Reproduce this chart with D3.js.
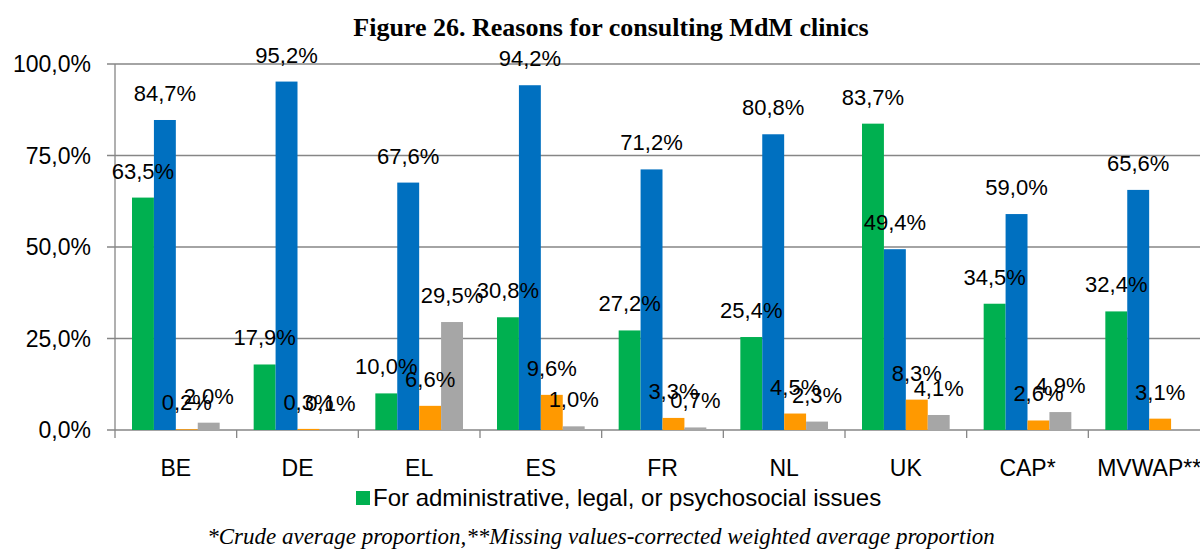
<!DOCTYPE html>
<html>
<head>
<meta charset="utf-8">
<script src="https://cdn.jsdelivr.net/npm/d3@7"></script>
<style>
  body { margin: 0; background: #fff; }
  svg { display: block; }
</style>
</head>
<body>
<script>
var countries = ["BE", "DE", "EL", "ES", "FR", "NL", "UK", "CAP*", "MVWAP**"];
var adminLegalPsycho = [63.5, 17.9, 10.0, 30.8, 27.2, 25.4, 83.7, 34.5, 32.4];
var seriesBlue = [84.7, 95.2, 67.6, 94.2, 71.2, 80.8, 49.4, 59.0, 65.6];
var seriesOrange = [0.2, 0.3, 6.6, 9.6, 3.3, 4.5, 8.3, 2.6, 3.1];
var seriesGray = [2.0, 0.1, 29.5, 1.0, 0.7, 2.3, 4.1, 4.9, null];
var yTicks = [0, 25, 50, 75, 100];

var seriesList = [
    { key: "admin", values: adminLegalPsycho, color: "#00B050" },
    { key: "blue", values: seriesBlue, color: "#0070C0" },
    { key: "orange", values: seriesOrange, color: "#FF9900" },
    { key: "gray", values: seriesGray, color: "#A6A6A6" }
];

var W = 1200, H = 551;
var plotLeft = 115, plotRight = 1210, plotTop = 64, plotBottom = 430;
var gridColor = "#868686";
var labelFont = "'Liberation Sans', Arial, sans-serif";
var serifFont = "'Liberation Serif', 'Times New Roman', serif";

var svg = d3.select("body").append("svg")
    .attr("width", W)
    .attr("height", H);

var x0 = d3.scaleBand()
    .domain(countries)
    .range([plotLeft, plotRight]);
var x1 = d3.scaleBand()
    .domain(seriesList.map(function (s) { return s.key; }))
    .range([17, x0.bandwidth() - 17]);
var y = d3.scaleLinear()
    .domain([0, 100])
    .range([plotBottom, plotTop]);

var fmt = function (v) { return d3.format(".1f")(v).replace(".", ",") + "%"; };

// gridlines + y ticks
svg.append("g")
    .selectAll("line")
    .data(yTicks)
    .enter()
    .append("line")
    .attr("x1", plotLeft - 8)
    .attr("x2", plotRight)
    .attr("y1", function (d) { return y(d); })
    .attr("y2", function (d) { return y(d); })
    .attr("stroke", gridColor)
    .attr("stroke-width", 1.3);

svg.append("g")
    .selectAll("text")
    .data(yTicks)
    .enter()
    .append("text")
    .attr("x", plotLeft - 24)
    .attr("y", function (d) { return y(d); })
    .attr("dy", "0.35em")
    .attr("text-anchor", "end")
    .style("font-family", labelFont)
    .style("font-size", "23px")
    .attr("fill", "#000")
    .text(function (d) { return fmt(d); });

// y axis line
svg.append("line")
    .attr("x1", plotLeft).attr("x2", plotLeft)
    .attr("y1", plotTop).attr("y2", plotBottom + 8)
    .attr("stroke", gridColor)
    .attr("stroke-width", 1.3);

// category ticks
svg.append("g")
    .selectAll("line")
    .data(countries.slice(1))
    .enter()
    .append("line")
    .attr("x1", function (d) { return x0(d); })
    .attr("x2", function (d) { return x0(d); })
    .attr("y1", plotBottom)
    .attr("y2", plotBottom + 8)
    .attr("stroke", gridColor)
    .attr("stroke-width", 1.3);

// bars
var groups = svg.append("g")
    .selectAll("g")
    .data(seriesList)
    .enter()
    .append("g")
    .attr("fill", function (s) { return s.color; });

function rows(s) {
    return s.values.map(function (v, i) { return { key: s.key, country: countries[i], value: v }; })
        .filter(function (d) { return d.value != null; });
}

groups.selectAll("rect")
    .data(rows)
    .enter()
    .append("rect")
    .attr("x", function (d) { return x0(d.country) + x1(d.key); })
    .attr("y", function (d) { return y(d.value); })
    .attr("width", x1.bandwidth())
    .attr("height", function (d) { return plotBottom - y(d.value); });

// data labels
var labelLayer = svg.append("g");
seriesList.forEach(function (s) {
    labelLayer.selectAll("text.s-" + s.key)
        .data(rows(s))
        .enter()
        .append("text")
        .attr("class", "s-" + s.key)
        .attr("x", function (d) { return x0(d.country) + x1(d.key) + x1.bandwidth() / 2; })
        .attr("y", function (d) { return y(d.value) - 19; })
        .attr("text-anchor", "middle")
        .attr("fill", "#000")
        .style("font-family", labelFont)
        .style("font-size", "22px")
        .text(function (d) { return fmt(d.value); });
});

// category labels
svg.append("g")
    .selectAll("text")
    .data(countries)
    .enter()
    .append("text")
    .attr("x", function (d) { return x0(d) + x0.bandwidth() / 2; })
    .attr("y", 476)
    .attr("text-anchor", "middle")
    .style("font-family", labelFont)
    .style("font-size", "23px")
    .text(function (d) { return d; });

// title
svg.append("text")
    .attr("x", 611)
    .attr("y", 36)
    .attr("text-anchor", "middle")
    .style("font-family", serifFont)
    .style("font-weight", "bold")
    .style("font-size", "26px")
    .text("Figure 26. Reasons for consulting MdM clinics");

// legend (only first series shown)
svg.append("rect")
    .attr("x", 356)
    .attr("y", 491)
    .attr("width", 14)
    .attr("height", 14)
    .attr("fill", seriesList[0].color);
svg.append("text")
    .attr("x", 373)
    .attr("y", 506)
    .style("font-family", labelFont)
    .style("font-size", "24px")
    .text("For administrative, legal, or psychosocial issues");

// footnote
svg.append("text")
    .attr("x", 601)
    .attr("y", 544)
    .attr("text-anchor", "middle")
    .style("font-family", serifFont)
    .style("font-style", "italic")
    .style("font-size", "23px")
    .text("*Crude average proportion,**Missing values-corrected weighted average proportion");
</script>
</body>
</html>
